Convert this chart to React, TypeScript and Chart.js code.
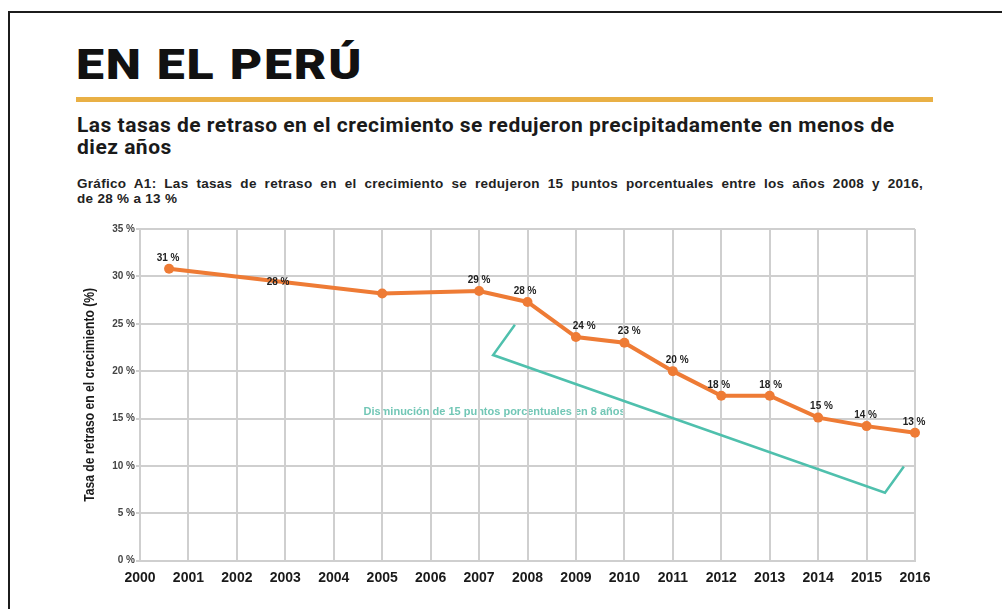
import React, { useEffect, useRef } from "react";
import { Chart, registerables } from "chart.js";

Chart.register(...registerables);

// ---- Data ----
const pointYears = [2000.6, 2005, 2007, 2008, 2009, 2010, 2011, 2012, 2013, 2014, 2015, 2016];
const rates = [30.8, 28.2, 28.45, 27.3, 23.6, 23.0, 20.0, 17.4, 17.4, 15.1, 14.2, 13.5];
const labelTexts = ["31 %", "28 %", "29 %", "28 %", "24 %", "23 %", "20 %", "18 %", "18 %", "15 %", "14 %", "13 %"];
const labelYears = [2000.58, 2002.85, 2007.0, 2007.95, 2009.17, 2010.1, 2011.09, 2011.95, 2013.02, 2014.07, 2014.98, 2015.98];

const bracketYears = [2007.74, 2007.29, 2015.38, 2015.77];
const bracketRates = [24.9, 21.7, 7.18, 9.93];
const bracketText = "Disminución de 15 puntos porcentuales en 8 años";
const bracketTextYear = 2007.32;
const bracketTextRate = 15.73;

const xTickLabels = ["2000", "2001", "2002", "2003", "2004", "2005", "2006", "2007", "2008", "2009", "2010", "2011", "2012", "2013", "2014", "2015", "2016"];
const yTickLabels = ["0 %", "5 %", "10 %", "15 %", "20 %", "25 %", "30 %", "35 %"];
const yTitle = "Tasa de retraso en el crecimiento (%)";

const ORANGE = "#ee7b35";
const TEAL = "#4fc0ad";
const TEAL_TEXT = "#72c7b6";
const GRID = "#cfcfcf";

export default function App() {
  const canvasRef = useRef<HTMLCanvasElement | null>(null);

  useEffect(() => {
    document.body.style.margin = "0";
    const canvas = canvasRef.current;
    if (!canvas) return;

    const labelPlugin = {
      id: "labels",
      beforeDraw(chart: any) {
        const { ctx, scales } = chart;
        ctx.save();
        ctx.font = "bold 11px 'Liberation Sans', Arial, sans-serif";
        ctx.fillStyle = TEAL_TEXT;
        ctx.textAlign = "center";
        ctx.textBaseline = "middle";
        ctx.fillText(bracketText, scales.x.getPixelForValue(bracketTextYear), scales.y.getPixelForValue(bracketTextRate));
        ctx.restore();

        // y axis title, condensed
        const area = chart.chartArea;
        ctx.save();
        ctx.font = "bold 15px 'Liberation Sans', Arial, sans-serif";
        ctx.fillStyle = "#1a1a1a";
        ctx.textAlign = "center";
        ctx.textBaseline = "middle";
        const w = ctx.measureText(yTitle).width;
        ctx.translate(90, (area.top + area.bottom) / 2);
        ctx.rotate(-Math.PI / 2);
        ctx.scale(214 / w, 1);
        ctx.fillText(yTitle, 0, 0);
        ctx.restore();
      },
      afterDatasetsDraw(chart: any) {
        const { ctx, scales } = chart;
        ctx.save();
        ctx.font = "bold 10px 'Liberation Sans', Arial, sans-serif";
        ctx.fillStyle = "#222";
        ctx.textAlign = "center";
        ctx.textBaseline = "middle";
        labelTexts.forEach((t, i) => {
          const x = scales.x.getPixelForValue(labelYears[i]);
          const y = scales.y.getPixelForValue(rates[i]) - 11;
          ctx.fillText(t, x, y);
        });
        ctx.restore();
      },
    };

    const chart = new Chart(canvas, {
      type: "line",
      data: {
        datasets: [
          {
            data: pointYears.map((x, i) => ({ x, y: rates[i] })),
            borderColor: ORANGE,
            backgroundColor: ORANGE,
            borderWidth: 4,
            pointRadius: 5,
            pointHoverRadius: 5,
            pointBorderWidth: 0,
            tension: 0,
            clip: false,
            order: 1,
          },
          {
            data: bracketYears.map((x, i) => ({ x, y: bracketRates[i] })),
            borderColor: TEAL,
            borderWidth: 2.5,
            pointRadius: 0,
            tension: 0,
            clip: false,
            order: 2,
          },
        ],
      },
      options: {
        animation: false,
        responsive: false,
        events: [],
        layout: { padding: { left: 78, right: 87, top: 19, bottom: 0 } },
        scales: {
          x: {
            type: "linear",
            min: 2000,
            max: 2016,
            ticks: {
              stepSize: 1,
              autoSkip: false,
              maxRotation: 0,
              padding: 9,
              color: "#1a1a1a",
              font: { family: "'Liberation Sans', Arial, sans-serif", size: 14, weight: "bold" },
              callback: (_v: any, i: number) => xTickLabels[i],
            },
            grid: { color: GRID, lineWidth: 2, drawTicks: false },
            border: { color: GRID, width: 2 },
            afterFit: (s: any) => {
              s.height = 48.3;
            },
          },
          y: {
            min: 0,
            max: 35,
            ticks: {
              stepSize: 5,
              padding: 1,
              color: "#444",
              font: { family: "'Liberation Sans', Arial, sans-serif", size: 10, weight: "bold" },
              callback: (_v: any, i: number) => yTickLabels[i],
            },
            grid: { color: GRID, lineWidth: 2, tickLength: 4 },
            border: { color: GRID, width: 2 },
            afterFit: (s: any) => {
              s.width = 62;
            },
          },
        },
        plugins: {
          legend: { display: false },
          tooltip: { enabled: false },
        },
      },
      plugins: [labelPlugin],
    } as any);

    return () => chart.destroy();
  }, []);

  return (
    <div style={{ position: "fixed", left: 0, top: 0, width: 1002, height: 609, overflow: "hidden", background: "#fff" }}>
      <div
        style={{
          position: "absolute",
          left: 8,
          top: 11,
          width: 1100,
          height: 700,
          borderLeft: "2px solid #1c1c1c",
          borderTop: "2px solid #1c1c1c",
        }}
      />
      <div
        style={{
          position: "absolute",
          left: 76,
          top: 44,
          fontFamily: "Roboto, 'DejaVu Sans', sans-serif",
          fontWeight: 900,
          fontSize: 42,
          lineHeight: "42px",
          letterSpacing: 1.5,
          color: "#111",
          whiteSpace: "nowrap",
          transform: "scaleX(1.19)",
          transformOrigin: "left top",
        }}
      >
        EN EL PERÚ
      </div>
      <div style={{ position: "absolute", left: 76, top: 97, width: 857, height: 5, background: "#e9b045" }} />
      <div
        style={{
          position: "absolute",
          left: 77,
          top: 114,
          fontFamily: "Roboto, 'Liberation Sans', sans-serif",
          fontWeight: 700,
          fontSize: 21,
          lineHeight: "22px",
          letterSpacing: 0.5,
          color: "#1a1a1a",
          whiteSpace: "nowrap",
        }}
      >
        <div>Las tasas de retraso en el crecimiento se redujeron precipitadamente en menos de</div>
        <div>diez años</div>
      </div>
      <div
        style={{
          position: "absolute",
          left: 77,
          top: 176,
          width: 846,
          fontFamily: "'Liberation Sans', Arial, sans-serif",
          fontWeight: 700,
          fontSize: 13.5,
          lineHeight: "15px",
          letterSpacing: 0.3,
          color: "#222",
        }}
      >
        <div style={{ textAlign: "justify", textAlignLast: "justify", whiteSpace: "nowrap" as any }}>
          Gráfico A1: Las tasas de retraso en el crecimiento se redujeron 15 puntos porcentuales entre los años 2008 y 2016,
        </div>
        <div>de 28 % a 13 %</div>
      </div>
      <canvas
        ref={canvasRef}
        width={1002}
        height={399}
        style={{ position: "absolute", left: 0, top: 210, width: 1002, height: 399 }}
      />
    </div>
  );
}
